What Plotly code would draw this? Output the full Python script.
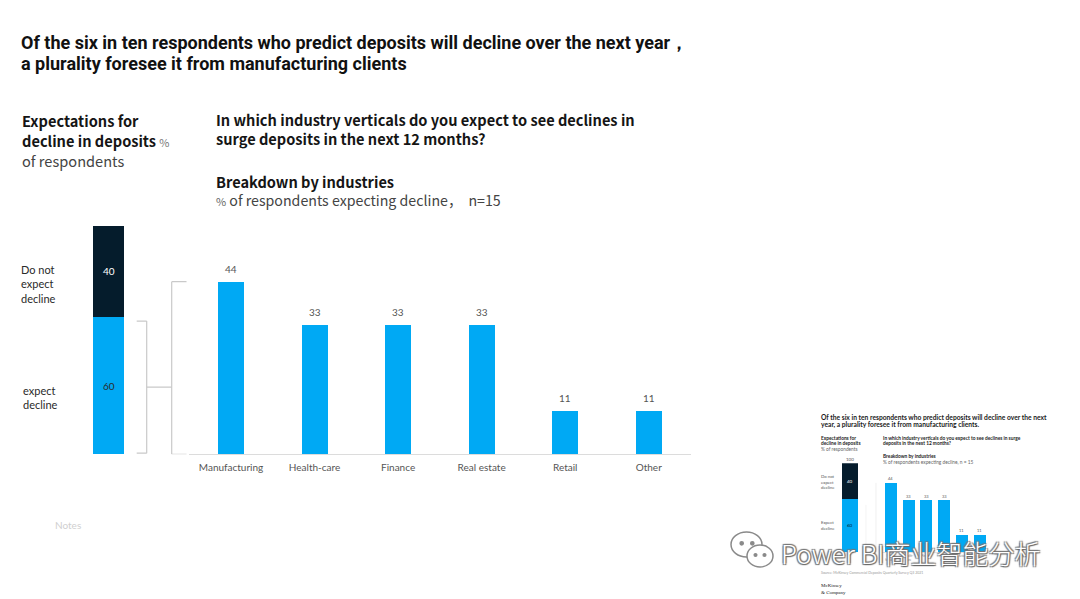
import plotly.graph_objects as go

# The page body adds an 8px margin, so the figure is drawn 8px in and sized to fit the window.
OFF = 8
W, H = 1080 - OFF, 599 - OFF

# ---------------- data ----------------
industries = ["Manufacturing", "Health-care", "Finance", "Real estate", "Retail", "Other"]
decline_share = [44, 33, 33, 33, 11, 11]
expect_labels = ["expect decline", "Do not expect decline"]
expect_values = [60, 40]
thumb_industries = ["Manu-<br>facturing", "Health-<br>care", "Finance", "Real<br>estate", "Retail", "Other"]

BLUE = "#00A9F4"
NAVY = "#051C2C"
GREY_LINE = "#c9c9c9"


def px_x(p):
    return (p - OFF) / W


def px_y(p):
    return 1 - (p - OFF) / H


fig = go.Figure()

# ---------------- main left stacked bar ----------------
fig.add_trace(go.Bar(
    x=["all"], y=[expect_values[0]], xaxis="x", yaxis="y", width=0.517,
    marker=dict(color=BLUE, line=dict(width=0)), text=[str(expect_values[0])],
    textposition="inside", insidetextanchor="middle",
    textfont=dict(family="Lato", size=10, color="#2b2b2b"), showlegend=False, hoverinfo="skip"))
fig.add_trace(go.Bar(
    x=["all"], y=[expect_values[1]], xaxis="x", yaxis="y", width=0.517,
    marker=dict(color=NAVY, line=dict(width=0)), text=[str(expect_values[1])],
    textposition="inside", insidetextanchor="middle",
    textfont=dict(family="Lato", size=10, color="#ffffff"), showlegend=False, hoverinfo="skip"))

# ---------------- main right bars ----------------
fig.add_trace(go.Bar(
    x=industries, y=decline_share, xaxis="x2", yaxis="y2", width=0.311,
    marker=dict(color=BLUE, line=dict(width=0)), showlegend=False, hoverinfo="skip"))

# ---------------- thumbnail ----------------
fig.add_trace(go.Bar(
    x=["all"], y=[expect_values[0]], xaxis="x3", yaxis="y3", width=0.8,
    marker=dict(color=BLUE, line=dict(width=0)), text=[str(expect_values[0])],
    textposition="inside", insidetextanchor="middle",
    textfont=dict(family="Lato", size=4.5, color="#051C2C"), showlegend=False, hoverinfo="skip"))
fig.add_trace(go.Bar(
    x=["all"], y=[expect_values[1]], xaxis="x3", yaxis="y3", width=0.8,
    marker=dict(color=NAVY, line=dict(width=0)), text=[str(expect_values[1])],
    textposition="inside", insidetextanchor="middle",
    textfont=dict(family="Lato", size=4.5, color="#ffffff"), showlegend=False, hoverinfo="skip"))
fig.add_trace(go.Bar(
    x=thumb_industries, y=decline_share, xaxis="x4", yaxis="y4", width=0.67,
    marker=dict(color=BLUE, line=dict(width=0)), showlegend=False, hoverinfo="skip"))

hidden = dict(showgrid=False, zeroline=False, showticklabels=False, showline=False, ticks="")

fig.update_layout(
    width=W, height=H, margin=dict(l=0, r=0, t=0, b=0),
    paper_bgcolor="white", plot_bgcolor="rgba(0,0,0,0)",
    barmode="stack", showlegend=False,
    xaxis=dict(domain=[px_x(78.8), px_x(138.8)], anchor="y", **hidden),
    yaxis=dict(domain=[px_y(454.3), px_y(225.7)], range=[0, 100], anchor="x", **hidden),
    xaxis2=dict(domain=[px_x(189.25), px_x(690.5)], anchor="y2", showgrid=False, zeroline=False,
                showline=True, linecolor="#dcdcdc", linewidth=1, ticks="",
                tickfont=dict(family="Lato", size=10, color="#555555"), ticklabelstandoff=4),
    yaxis2=dict(domain=[px_y(454.3), px_y(258.15)], range=[0, 50], anchor="x2", **hidden),
    xaxis3=dict(domain=[px_x(839.7), px_x(859.7)], anchor="y3", **hidden),
    yaxis3=dict(domain=[px_y(552), px_y(463.3)], range=[0, 100], anchor="x3", **hidden),
    xaxis4=dict(domain=[px_x(881.9), px_x(988.6)], anchor="y4", showgrid=False, zeroline=False,
                showline=True, linecolor="#e3e3e3", linewidth=0.5, ticks="",
                tickfont=dict(family="Lato", size=2.8, color="#777777"), ticklabelstandoff=1),
    yaxis4=dict(domain=[px_y(552), px_y(473.5)], range=[0, 50], anchor="x4", **hidden),
)

ann = []


def txt(x, y, text, size, color="#1a1a1a", family="Noto Sans CJK SC", weight="normal", anchor="left", **kw):
    ann.append(dict(x=px_x(x - 2), y=px_y(y), xref="paper", yref="paper", text=text, showarrow=False,
                    xanchor=anchor, yanchor="middle", align="left",
                    font=dict(family=family, size=size, color=color, weight=weight), **kw))


# main title
TITLE_FONT = "Liberation Sans Narrow, Roboto"
txt(21, 43, "Of the six in ten respondents who predict deposits will decline over the next year，", 18,
    "#111111", TITLE_FONT, "bold")
txt(21, 64, "a plurality foresee it from manufacturing clients", 18, "#111111", TITLE_FONT, "bold")

# left heading
txt(22, 121, "Expectations for", 14.6, "#151515", weight="bold")
txt(22, 140.5, "decline in deposits <span style='font-weight:normal;color:#777;font-size:11px'>%</span>", 14.6,
    "#151515", weight="bold")
txt(22, 160, "of respondents", 14.6, "#444444")

# right heading
txt(216, 119.5, "In which industry verticals do you expect to see declines in", 14.6, "#151515", weight="bold")
txt(216, 138.5, "surge deposits in the next 12 months?", 14.6, "#151515", weight="bold")
txt(216, 181, "Breakdown by industries", 14.6, "#151515", weight="bold")
txt(216, 200.5, "<span style='font-size:11px;color:#666'>%</span> of respondents expecting decline，  n=15", 14.2, "#444444")

# side labels
txt(21, 284, "Do not<br>expect<br>decline", 11, "#2a2a2a", "Lato")
txt(23, 397, "expect<br>decline", 11, "#2a2a2a", "Lato")

# notes
txt(55, 525, "Notes", 10, "#cfcfcf", "Lato")

# value labels main
for cat, v in zip(industries, decline_share):
    ann.append(dict(x=cat, y=v, xref="x2", yref="y2", text=str(v), showarrow=False,
                    yshift=13, xanchor="center", yanchor="middle",
                    font=dict(family="Lato", size=10, color="#555555")))

# ---------------- thumbnail texts ----------------
TF = "Lato"
txt(821, 416.7, "Of the six in ten respondents who predict deposits will decline over the next", 6.7, "#1a1a1a", TF, "bold")
txt(821, 424.3, "year, a plurality foresee it from manufacturing clients.", 6.7, "#1a1a1a", TF, "bold")
txt(821, 437.7, "Expectations for", 4.8, "#1a1a1a", TF, "bold")
txt(821, 443.3, "decline in deposits", 4.8, "#1a1a1a", TF, "bold")
txt(821, 449, "% of respondents", 4.8, "#666666", TF)
txt(883, 437.7, "In which industry verticals do you expect to see declines in surge", 4.8, "#1a1a1a", TF, "bold")
txt(883, 443.3, "deposits in the next 12 months?", 4.8, "#1a1a1a", TF, "bold")
txt(883, 456, "Breakdown by industries", 4.8, "#1a1a1a", TF, "bold")
txt(883, 461.7, "% of respondents expecting decline, n = 15", 4.8, "#666666", TF)
txt(821, 482, "Do not<br>expect<br>decline", 4.3, "#555555", TF)
txt(821, 525.5, "Expect<br>decline", 4.3, "#555555", TF)
txt(821, 573.3, "Source: McKinsey Commercial Deposits Quarterly Survey Q3 2021", 3.5, "#999999", TF)
txt(821, 589, "McKinsey<br>& Company", 5, "#1a1a1a", "Liberation Serif")
ann.append(dict(x="all", y=sum(expect_values), xref="x3", yref="y3", text=str(sum(expect_values)),
                showarrow=False, yshift=4, font=dict(family=TF, size=4.5, color="#555555")))
for cat, v in zip(thumb_industries, decline_share):
    ann.append(dict(x=cat, y=v, xref="x4", yref="y4", text=str(v), showarrow=False,
                    yshift=4, font=dict(family=TF, size=4, color="#555555")))

# ---------------- watermark ----------------
ann.append(dict(x=px_x(779), y=px_y(552), xref="paper", yref="paper", text="Power BI商业智能分析",
                showarrow=False, xanchor="left", yanchor="middle",
                font=dict(family="Noto Sans CJK SC", size=26, color="#ffffff", weight=300,
                          shadow="1px 1px 1px #666, -1px -1px 1px #777, 1px -1px 1px #777, -1px 1px 1px #777")))

fig.update_layout(annotations=ann)

# ---------------- shapes: brackets ----------------
shapes = []


def seg(x0, y0, x1, y1, yref, color=GREY_LINE, width=1.2, xref="paper"):
    shapes.append(dict(type="line", xref=xref, yref=yref, x0=x0, y0=y0, x1=x1, y1=y1,
                       line=dict(color=color, width=width)))


# bracket around "expect decline" segment (left axis units)
b_lo, b_hi = 0.5, expect_values[0] - 1.7
bx = px_x(146.7)
seg(px_x(136.7), b_lo, bx, b_lo, "y")
seg(px_x(136.7), b_hi, bx, b_hi, "y")
seg(bx, b_lo, bx, b_hi, "y")
seg(bx, (b_lo + b_hi) / 2, px_x(171.7), (b_lo + b_hi) / 2, "y")
# bracket spanning the industry bars (right axis units)
rx = px_x(171.7)
top = max(decline_share)
seg(rx, 0, rx, top, "y2")
seg(rx, top, px_x(186.5), top, "y2")
seg(rx, 0, px_x(186.5), 0, "y2")

# thumbnail brackets (faint)
seg(px_x(876), 0, px_x(876), top, "y4", "#e6e6e6", 0.6)
seg(px_x(866), 0, px_x(866), expect_values[0] * 0.5, "y4", "#ececec", 0.6)


# wechat icon
def ell(x0, y0, x1, y1, fill="white"):
    shapes.append(dict(type="circle", xref="paper", yref="paper", x0=px_x(x0), x1=px_x(x1),
                       y0=px_y(y1), y1=px_y(y0), fillcolor=fill, line=dict(color="#8a8a8a", width=1.5),
                       layer="above"))


ell(731, 532, 762, 557)
ell(747, 545, 773, 567)
for cx, cy, r in [(741.7, 543.3, 1.6), (752.3, 543.3, 1.6), (755.5, 555, 1.3), (764.5, 555, 1.3)]:
    ell(cx - r, cy - r, cx + r, cy + r, fill="#8a8a8a")

fig.update_layout(shapes=shapes)

fig.write_html("out.html")
